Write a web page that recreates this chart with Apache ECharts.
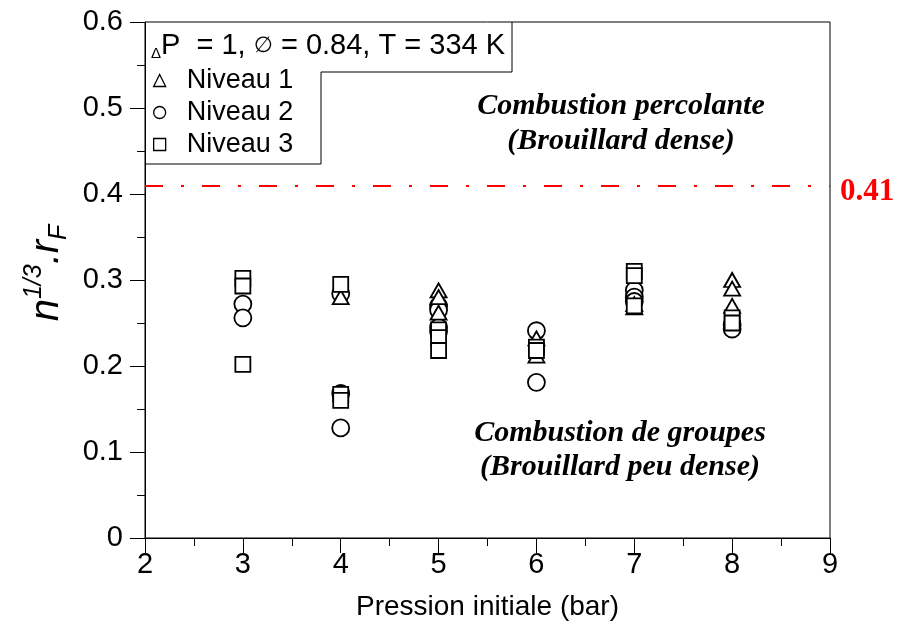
<!DOCTYPE html>
<html>
<head>
<meta charset="utf-8">
<script src="https://cdn.jsdelivr.net/npm/echarts@6/dist/echarts.min.js"></script>
<style>html,body{margin:0;padding:0;background:#fff}#c{width:898px;height:630px}</style>
</head>
<body>
<div id="c"></div>
<script>
// Data (x = initial pressure in bar, y = n^{1/3}.r_F)
var n1Pressure = [4, 5, 5, 5, 6, 6, 7, 7, 8, 8, 8];
var n1Values   = [0.280, 0.288, 0.280, 0.262, 0.232, 0.212, 0.272, 0.268, 0.300, 0.290, 0.270];
var n2Pressure = [3, 3, 4, 4, 4, 5, 5, 5, 5, 6, 6, 7, 7, 7, 8, 8];
var n2Values   = [0.272, 0.256, 0.284, 0.168, 0.128, 0.270, 0.265, 0.245, 0.240, 0.241, 0.181, 0.288, 0.280, 0.275, 0.248, 0.243];
var n3Pressure = [3, 3, 3, 4, 4, 4, 5, 5, 5, 6, 6, 7, 7, 7, 8, 8];
var n3Values   = [0.302, 0.293, 0.202, 0.295, 0.167, 0.160, 0.242, 0.233, 0.218, 0.222, 0.218, 0.310, 0.305, 0.270, 0.256, 0.250];
var seriesNames = ['Niveau 1', 'Niveau 2', 'Niveau 3'];
var thresholdValue = 0.41;
var xTicks = [2, 3, 4, 5, 6, 7, 8, 9];
var yTicks = [0, 0.1, 0.2, 0.3, 0.4, 0.5, 0.6];

function pairs(xs, ys) { return xs.map(function (x, i) { return [x, ys[i]]; }); }

var SANS = 'Liberation Sans, Arial, sans-serif';
var SERIF = 'Liberation Serif, Times New Roman, serif';
var markerStyle = { color: '#fff', borderColor: '#000', borderWidth: 1.8, opacity: 1 };

var chart = echarts.init(document.getElementById('c'), null, { renderer: 'canvas' });
chart.setOption({
  backgroundColor: '#fff',
  animation: false,
  grid: { left: 145, right: 68, top: 22, bottom: 92, show: true, borderColor: '#000', borderWidth: 1, backgroundColor: 'transparent' },
  xAxis: {
    type: 'value', min: xTicks[0], max: xTicks[xTicks.length - 1], interval: 1,
    name: 'Pression initiale (bar)', nameLocation: 'middle', nameGap: 55,
    nameTextStyle: { fontFamily: SANS, fontSize: 28, color: '#000' },
    axisLine: { lineStyle: { color: '#000', width: 1 } },
    axisTick: { inside: false, length: 15, lineStyle: { color: '#000' } },
    minorTick: { show: true, splitNumber: 2, length: 8, lineStyle: { color: '#000' } },
    axisLabel: { fontFamily: SANS, fontSize: 29, color: '#000', margin: 12 },
    splitLine: { show: false }
  },
  yAxis: {
    type: 'value', min: yTicks[0], max: yTicks[yTicks.length - 1], interval: 0.1,
    name: '{a|n}{s|1/3}{a|.r}{b|F}', nameLocation: 'middle', nameRotate: 90, nameGap: 72,
    nameTextStyle: {
      padding: [0, 0, 0, 14],
      rich: {
        a: { fontFamily: SANS, fontStyle: 'italic', fontSize: 40, color: '#000', lineHeight: 50, verticalAlign: 'middle' },
        s: { fontFamily: SANS, fontStyle: 'italic', fontSize: 25, color: '#000', lineHeight: 50, verticalAlign: 'top' },
        b: { fontFamily: SANS, fontStyle: 'italic', fontSize: 25, color: '#000', lineHeight: 50, verticalAlign: 'bottom' }
      }
    },
    axisLine: { show: true, lineStyle: { color: '#000', width: 1 } },
    axisTick: { show: true, inside: false, length: 15, lineStyle: { color: '#000' } },
    minorTick: { show: true, splitNumber: 2, length: 8, lineStyle: { color: '#000' } },
    axisLabel: { fontFamily: SANS, fontSize: 29, color: '#000', margin: 22 },
    splitLine: { show: false }
  },
  legend: {
    data: seriesNames, orient: 'vertical', left: 148, top: 62,
    itemWidth: 12, itemHeight: 12, itemGap: 5,
    itemStyle: { borderWidth: 1.3 },
    textStyle: { fontFamily: SANS, fontSize: 27, color: '#000', padding: [0, 0, 0, 16] }
  },
  series: [
    {
      name: seriesNames[0], type: 'scatter', symbol: 'triangle', symbolSize: [16, 14],
      itemStyle: markerStyle, data: pairs(n1Pressure, n1Values), z: 3,
      markLine: {
        silent: true, symbol: 'none',
        lineStyle: { color: '#ff0000', width: 2, type: [18, 18, 3, 18] },
        label: { show: true, position: 'end', formatter: String(thresholdValue), color: '#ff0000', fontFamily: SERIF, fontWeight: 'bold', fontSize: 31, distance: 10, offset: [0, 7] },
        data: [{ yAxis: thresholdValue }]
      }
    },
    { name: seriesNames[1], type: 'scatter', symbol: 'circle', symbolSize: 17, itemStyle: markerStyle, data: pairs(n2Pressure, n2Values), z: 2 },
    { name: seriesNames[2], type: 'scatter', symbol: 'rect', symbolSize: 15, itemStyle: markerStyle, data: pairs(n3Pressure, n3Values), z: 4 }
  ],
  graphic: [
    { type: 'polyline', z: 10, shape: { points: [[512, 22], [512, 72], [321, 72], [321, 164], [145, 164]] }, style: { stroke: '#000', lineWidth: 1, fill: null } },
    { type: 'text', z: 10, x: 151, y: 46, style: {
        text: '{d|Δ}{p|P}  = 1, {o|∅} = 0.84, T = 334 K', verticalAlign: 'middle',
        rich: {
          d: { fontFamily: SANS, fontSize: 15, fill: '#000', verticalAlign: 'bottom', lineHeight: 28 },
          p: { fontFamily: SANS, fontSize: 29, fill: '#000', lineHeight: 30 },
          o: { fontFamily: 'DejaVu Sans, sans-serif', fontSize: 22, fill: '#000', lineHeight: 30 }
        },
        fontFamily: SANS, fontSize: 29, fill: '#000'
    } },
    { type: 'text', z: 10, x: 621, y: 106, style: { text: 'Combustion percolante', align: 'center', verticalAlign: 'middle', fontFamily: SERIF, fontWeight: 'bold', fontStyle: 'italic', fontSize: 30, fill: '#000' } },
    { type: 'text', z: 10, x: 621, y: 141, style: { text: '(Brouillard dense)', align: 'center', verticalAlign: 'middle', fontFamily: SERIF, fontWeight: 'bold', fontStyle: 'italic', fontSize: 30, fill: '#000' } },
    { type: 'text', z: 10, x: 620, y: 433, style: { text: 'Combustion de groupes', align: 'center', verticalAlign: 'middle', fontFamily: SERIF, fontWeight: 'bold', fontStyle: 'italic', fontSize: 30, fill: '#000' } },
    { type: 'text', z: 10, x: 620, y: 467, style: { text: '(Brouillard peu dense)', align: 'center', verticalAlign: 'middle', fontFamily: SERIF, fontWeight: 'bold', fontStyle: 'italic', fontSize: 30, fill: '#000' } }
  ]
});
</script>
</body>
</html>
